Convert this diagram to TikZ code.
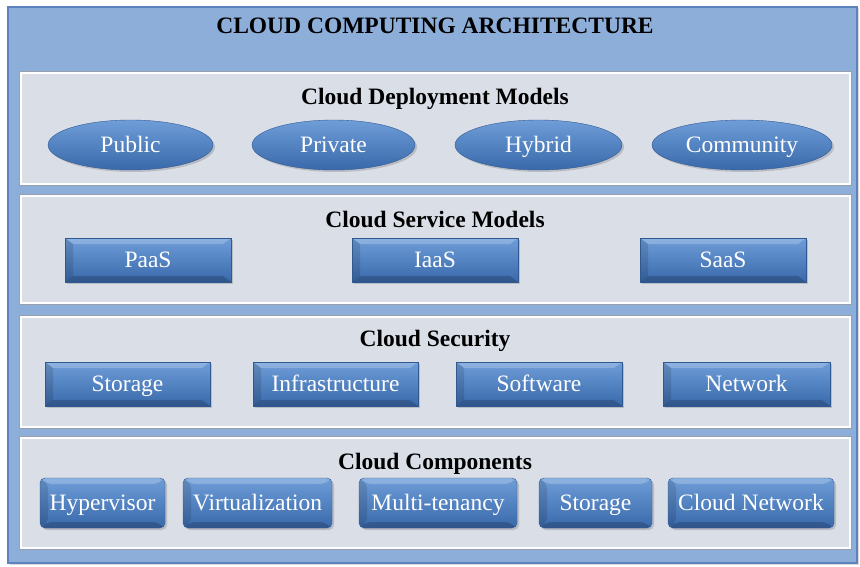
\documentclass[tikz,border=0pt]{standalone}
\usepackage{fontspec}
\setmainfont{Liberation Serif}
\usetikzlibrary{shapes.geometric,shadows}
\definecolor{framefill}{HTML}{8EAEDA}
\definecolor{frameline}{HTML}{5C83BD}
\definecolor{panelfill}{HTML}{D9DEE7}
\definecolor{panelline}{HTML}{97A0AC}
\definecolor{boxtop}{HTML}{6E9DD8}
\definecolor{boxbot}{HTML}{3A69AB}

\begin{document}
\begin{tikzpicture}[x=1pt, y=-1pt,
    outerframe/.style={draw=frameline, line width=1.5pt, fill=framefill, minimum width=849pt, minimum height=556pt, inner sep=0pt,
        drop shadow={shadow xshift=1.5pt, shadow yshift=-1.5pt, opacity=.3}},
    layer/.style={fill=panelfill, draw=white, line width=2pt, minimum width=829pt, inner sep=0pt,
        preaction={draw=panelline, line width=4pt}},
    heading/.style={font=\fontsize{23.5}{28}\selectfont\bfseries},
    item/.style={text=white, font=\fontsize{23.5}{28}\selectfont\rmfamily, inner sep=0pt, text height=17pt, text depth=2pt,
        top color=boxtop, bottom color=boxbot, draw=boxbot!85!black, line width=.4pt,
        drop shadow={shadow xshift=2pt, shadow yshift=-2pt, opacity=.35}},
    cloudtype/.style={item, ellipse, minimum height=50pt},
    bevelbox/.style={item, rectangle, minimum height=44pt,
        path picture={
            \fill[white, opacity=.22] (path picture bounding box.north west) -- (path picture bounding box.north east)
                -- ([xshift=-8pt, yshift=-6pt]path picture bounding box.north east) -- ([xshift=8pt, yshift=-6pt]path picture bounding box.north west) -- cycle;
            \fill[black, opacity=.18] (path picture bounding box.south west) -- (path picture bounding box.south east)
                -- ([xshift=-8pt, yshift=6pt]path picture bounding box.south east) -- ([xshift=8pt, yshift=6pt]path picture bounding box.south west) -- cycle;
            \fill[black, opacity=.12] (path picture bounding box.north west) -- ([xshift=8pt, yshift=-6pt]path picture bounding box.north west)
                -- ([xshift=8pt, yshift=6pt]path picture bounding box.south west) -- (path picture bounding box.south west) -- cycle;
        }},
    roundbox/.style={bevelbox, rounded corners=5pt, minimum height=50pt}
]
\useasboundingbox (0,0) rectangle (860,567);

\node[outerframe] at (432.5,285) (frame) {};
\node[heading] at (435,26) (title) {CLOUD COMPUTING ARCHITECTURE};

\node[layer, minimum height=111pt] at (435.5,128.5) (deploy) {};
\node[layer, minimum height=107pt] at (435.5,249.5) (service) {};
\node[layer, minimum height=110pt] at (435.5,372) (security) {};
\node[layer, minimum height=110pt] at (435.5,493) (components) {};

\node[heading] at (435,99) (deployhead) {Cloud Deployment Models};
\node[cloudtype, minimum width=165pt] at (130.5,145) (public) {Public};
\node[cloudtype, minimum width=163pt] at (333.5,145) (private) {Private};
\node[cloudtype, minimum width=167pt] at (538.5,145) (hybrid) {Hybrid};
\node[cloudtype, minimum width=180pt] at (742,145) (community) {Community};

\node[heading] at (435,219) (servicehead) {Cloud Service Models};
\node[bevelbox, minimum width=166pt] at (148,260) (paas) {PaaS};
\node[bevelbox, minimum width=166pt] at (435,260) (iaas) {IaaS};
\node[bevelbox, minimum width=166pt] at (723,260) (saas) {SaaS};

\node[heading] at (435,341) (securityhead) {Cloud Security};
\node[bevelbox, minimum width=165pt] at (127.5,384) (secstorage) {Storage};
\node[bevelbox, minimum width=165pt] at (335.5,384) (infra) {Infrastructure};
\node[bevelbox, minimum width=166pt] at (539,384) (software) {Software};
\node[bevelbox, minimum width=167pt] at (746.5,384) (network) {Network};

\node[heading] at (435,464) (componentshead) {Cloud Components};
\node[roundbox, minimum width=125pt] at (102.5,503) (hypervisor) {Hypervisor};
\node[roundbox, minimum width=149pt] at (257.5,503) (virtual) {Virtualization};
\node[roundbox, minimum width=158pt] at (438,503) (multitenancy) {Multi-tenancy};
\node[roundbox, minimum width=113pt] at (595.5,503) (compstorage) {Storage};
\node[roundbox, minimum width=166pt] at (751,503) (cloudnet) {Cloud Network};
\end{tikzpicture}
\end{document}
